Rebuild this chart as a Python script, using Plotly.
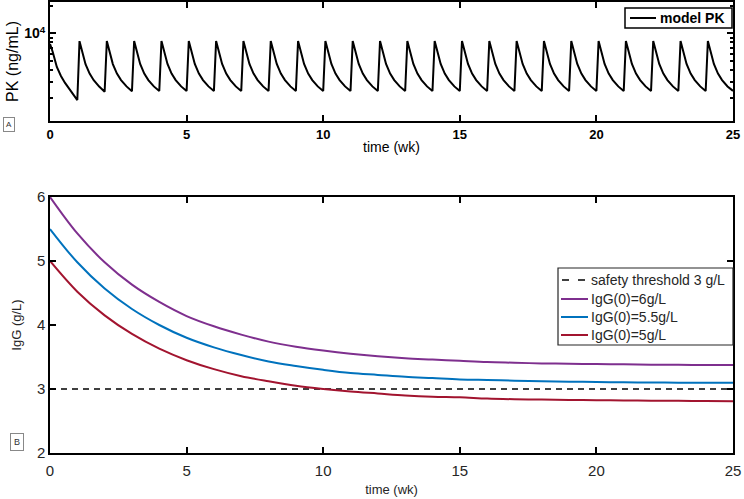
import plotly.graph_objects as go

# ---------------- data ----------------
pk_time = [
    0, 0.1, 0.25, 0.4, 0.55, 0.7, 0.85,
    1, 1.08, 1.2, 1.3, 1.45, 1.6, 1.8,
    2, 2.08, 2.2, 2.3, 2.45, 2.6, 2.8,
    3, 3.08, 3.2, 3.3, 3.45, 3.6, 3.8,
    4, 4.08, 4.2, 4.3, 4.45, 4.6, 4.8,
    5, 5.08, 5.2, 5.3, 5.45, 5.6, 5.8,
    6, 6.08, 6.2, 6.3, 6.45, 6.6, 6.8,
    7, 7.08, 7.2, 7.3, 7.45, 7.6, 7.8,
    8, 8.08, 8.2, 8.3, 8.45, 8.6, 8.8,
    9, 9.08, 9.2, 9.3, 9.45, 9.6, 9.8,
    10, 10.08, 10.2, 10.3, 10.45, 10.6, 10.8,
    11, 11.08, 11.2, 11.3, 11.45, 11.6, 11.8,
    12, 12.08, 12.2, 12.3, 12.45, 12.6, 12.8,
    13, 13.08, 13.2, 13.3, 13.45, 13.6, 13.8,
    14, 14.08, 14.2, 14.3, 14.45, 14.6, 14.8,
    15, 15.08, 15.2, 15.3, 15.45, 15.6, 15.8,
    16, 16.08, 16.2, 16.3, 16.45, 16.6, 16.8,
    17, 17.08, 17.2, 17.3, 17.45, 17.6, 17.8,
    18, 18.08, 18.2, 18.3, 18.45, 18.6, 18.8,
    19, 19.08, 19.2, 19.3, 19.45, 19.6, 19.8,
    20, 20.08, 20.2, 20.3, 20.45, 20.6, 20.8,
    21, 21.08, 21.2, 21.3, 21.45, 21.6, 21.8,
    22, 22.08, 22.2, 22.3, 22.45, 22.6, 22.8,
    23, 23.08, 23.2, 23.3, 23.45, 23.6, 23.8,
    24, 24.08, 24.2, 24.3, 24.45, 24.6, 24.8,
    25,
]
pk_value = [
    7700, 6300, 4320, 3450, 2900, 2490, 2150,
    1890, 8250, 5800, 4640, 3660, 3110, 2650,
    2330, 8270, 5830, 4650, 3670, 3120, 2660,
    2360, 8280, 5840, 4660, 3670, 3120, 2660,
    2370, 8280, 5840, 4660, 3670, 3120, 2660,
    2370, 8280, 5840, 4660, 3670, 3120, 2660,
    2370, 8280, 5840, 4660, 3670, 3120, 2660,
    2370, 8280, 5840, 4660, 3670, 3120, 2660,
    2370, 8280, 5840, 4660, 3670, 3120, 2660,
    2370, 8280, 5840, 4660, 3670, 3120, 2660,
    2370, 8280, 5840, 4660, 3670, 3120, 2660,
    2370, 8280, 5840, 4660, 3670, 3120, 2660,
    2370, 8280, 5840, 4660, 3670, 3120, 2660,
    2370, 8280, 5840, 4660, 3670, 3120, 2660,
    2370, 8280, 5840, 4660, 3670, 3120, 2660,
    2370, 8280, 5840, 4660, 3670, 3120, 2660,
    2370, 8280, 5840, 4660, 3670, 3120, 2660,
    2370, 8280, 5840, 4660, 3670, 3120, 2660,
    2370, 8280, 5840, 4660, 3670, 3120, 2660,
    2370, 8280, 5840, 4660, 3670, 3120, 2660,
    2370, 8280, 5840, 4660, 3670, 3120, 2660,
    2370, 8280, 5840, 4660, 3670, 3120, 2660,
    2370, 8280, 5840, 4660, 3670, 3120, 2660,
    2370, 8280, 5840, 4660, 3670, 3120, 2660,
    2370, 8280, 5840, 4660, 3670, 3120, 2660,
    2380,
]

igg_time = list(range(0, 26))
igg_6 = [6.00, 5.43, 4.98, 4.63, 4.36, 4.14, 3.98, 3.85, 3.74, 3.66, 3.60, 3.55, 3.51,
         3.48, 3.46, 3.44, 3.42, 3.41, 3.40, 3.395, 3.39, 3.385, 3.38, 3.378, 3.376, 3.375]
igg_55 = [5.50, 4.98, 4.57, 4.25, 4.00, 3.80, 3.65, 3.53, 3.43, 3.36, 3.30, 3.25, 3.22,
          3.19, 3.17, 3.15, 3.14, 3.13, 3.12, 3.114, 3.109, 3.105, 3.102, 3.099, 3.097, 3.096]
igg_5 = [5.00, 4.52, 4.15, 3.86, 3.63, 3.45, 3.31, 3.20, 3.12, 3.05, 3.00, 2.96, 2.93,
         2.90, 2.88, 2.87, 2.85, 2.84, 2.835, 2.83, 2.825, 2.82, 2.818, 2.815, 2.813, 2.81]
threshold_time = [0, 25]
threshold_value = [3, 3]

x_ticks = [0, 5, 10, 15, 20, 25]
igg_ticks = [2, 3, 4, 5, 6]
pk_major_ticks = [10000]
pk_major_text = ["10<sup>4</sup>"]
pk_minor_ticks = [2000, 3000, 4000, 5000, 6000, 7000, 8000, 9000, 20000]

# ---------------- figure ----------------
FONT = "Liberation Sans, Arial, Helvetica, sans-serif"
W, H = 744, 499
ML, MR, MT, MB = 50, 11, 2, 46
PW, PH = W - ML - MR, H - MT - MB


def px(x):
    return (x - ML) / PW


def py(y):
    return (H - MB - y) / PH


fig = go.Figure()

fig.add_trace(go.Scatter(x=pk_time, y=pk_value, mode="lines", name="model PK",
                         line=dict(color="black", width=2), xaxis="x", yaxis="y"))
fig.add_trace(go.Scatter(x=threshold_time, y=threshold_value, mode="lines",
                         name="safety threshold 3 g/L",
                         line=dict(color="black", width=1.5, dash="6px,5px"),
                         xaxis="x2", yaxis="y2"))
fig.add_trace(go.Scatter(x=igg_time, y=igg_6, mode="lines", name="IgG(0)=6g/L",
                         line=dict(color="#7E2F8E", width=2, shape="spline"),
                         xaxis="x2", yaxis="y2"))
fig.add_trace(go.Scatter(x=igg_time, y=igg_55, mode="lines", name="IgG(0)=5.5g/L",
                         line=dict(color="#0072BD", width=2, shape="spline"),
                         xaxis="x2", yaxis="y2"))
fig.add_trace(go.Scatter(x=igg_time, y=igg_5, mode="lines", name="IgG(0)=5g/L",
                         line=dict(color="#A2142F", width=2, shape="spline"),
                         xaxis="x2", yaxis="y2"))

axis_common = dict(showline=True, linecolor="black", mirror="ticks", ticks="inside",
                   tickcolor="black", showgrid=False, zeroline=False, automargin=False)

# manual legends (boxes, samples, labels)
shapes = []
annotations = []
# top legend
shapes.append(dict(type="rect", xref="paper", yref="paper", x0=px(625), x1=px(732),
                   y0=py(28), y1=py(8), line=dict(color="black", width=1.5),
                   fillcolor="white", layer="above"))
shapes.append(dict(type="line", xref="paper", yref="paper", x0=px(630), x1=px(656),
                   y0=py(18), y1=py(18), line=dict(color="black", width=2), layer="above"))
annotations.append(dict(text="model PK", xref="paper", yref="paper", x=px(658), y=py(18),
                        xanchor="left", yanchor="middle", showarrow=False,
                        font=dict(size=14, weight="bold", color="black")))
# bottom legend
shapes.append(dict(type="rect", xref="paper", yref="paper", x0=px(558), x1=px(733),
                   y0=py(345), y1=py(268), line=dict(color="#262626", width=1.2),
                   fillcolor="white", layer="above"))
leg_items = [
    ("safety threshold 3 g/L", "black", "dash", 1.5, 280),
    ("IgG(0)=6g/L", "#7E2F8E", "solid", 2, 299),
    ("IgG(0)=5.5g/L", "#0072BD", "solid", 2, 317),
    ("IgG(0)=5g/L", "#A2142F", "solid", 2, 335),
]
for label, color, dash, width, yy in leg_items:
    if dash == "dash":
        for a, b in [(562, 569), (578, 585)]:
            shapes.append(dict(type="line", xref="paper", yref="paper", x0=px(a), x1=px(b),
                               y0=py(yy), y1=py(yy), line=dict(color=color, width=width),
                               layer="above"))
    else:
        shapes.append(dict(type="line", xref="paper", yref="paper", x0=px(561), x1=px(588),
                           y0=py(yy), y1=py(yy), line=dict(color=color, width=width),
                           layer="above"))
    annotations.append(dict(text=label, xref="paper", yref="paper", x=px(589), y=py(yy),
                            xanchor="left", yanchor="middle", showarrow=False,
                            font=dict(size=14, color="#262626")))

annotations.append(dict(text="A", xref="paper", yref="paper", x=px(9), y=py(124),
                        xanchor="center", yanchor="middle",
                        showarrow=False, font=dict(size=8, color="#333"),
                        bordercolor="#888", borderwidth=1, borderpad=2, bgcolor="white"))
annotations.append(dict(text="B", xref="paper", yref="paper", x=px(17), y=py(442),
                        xanchor="center", yanchor="middle",
                        showarrow=False, font=dict(size=9, color="#333"),
                        bordercolor="#888", borderwidth=1, borderpad=3, bgcolor="white"))

fig.update_layout(
    width=W, height=H,
    margin=dict(l=ML, r=MR, t=MT, b=MB, autoexpand=False),
    paper_bgcolor="white", plot_bgcolor="white",
    font=dict(family=FONT, color="black"),
    showlegend=False,
    xaxis=dict(domain=[0, 1], anchor="y", range=[0, 25], tickvals=x_ticks,
               ticklen=6, tickwidth=2, linewidth=2,
               tickfont=dict(size=13, weight="bold", color="black"),
               title=dict(text="time (wk)", font=dict(size=14, color="black"), standoff=2),
               **axis_common),
    yaxis=dict(domain=[py(121), 1], anchor="x", type="log", range=[3.049, 4.342],
               tickvals=pk_major_ticks, ticktext=pk_major_text,
               ticklen=6, tickwidth=2, linewidth=2,
               minor=dict(tickvals=pk_minor_ticks, ticks="inside", ticklen=3,
                          tickcolor="black", tickwidth=1.5),
               tickfont=dict(size=14, weight="bold", color="black"),
               title=dict(text="PK (ng/mL)", font=dict(size=16, color="black"), standoff=2),
               **axis_common),
    xaxis2=dict(domain=[0, 1], anchor="y2", range=[0, 25], tickvals=x_ticks,
                ticklen=6, tickwidth=1.5, linewidth=1.5,
                tickfont=dict(size=15, color="#262626"),
                title=dict(text="time (wk)", font=dict(size=13, color="#262626"), standoff=7),
                ticklabelstandoff=3,
                **axis_common),
    yaxis2=dict(domain=[0, py(197)], anchor="x2", range=[2, 6], tickvals=igg_ticks,
                ticklen=6, tickwidth=1.5, linewidth=1.5,
                tickfont=dict(size=15, color="#262626"),
                title=dict(text="IgG (g/L)", font=dict(size=13, color="#262626"), standoff=12),
                **axis_common),
    shapes=shapes,
    annotations=annotations,
)

fig.write_html("out.html", config={"displayModeBar": False},
               post_script="document.body.style.margin='0';")
